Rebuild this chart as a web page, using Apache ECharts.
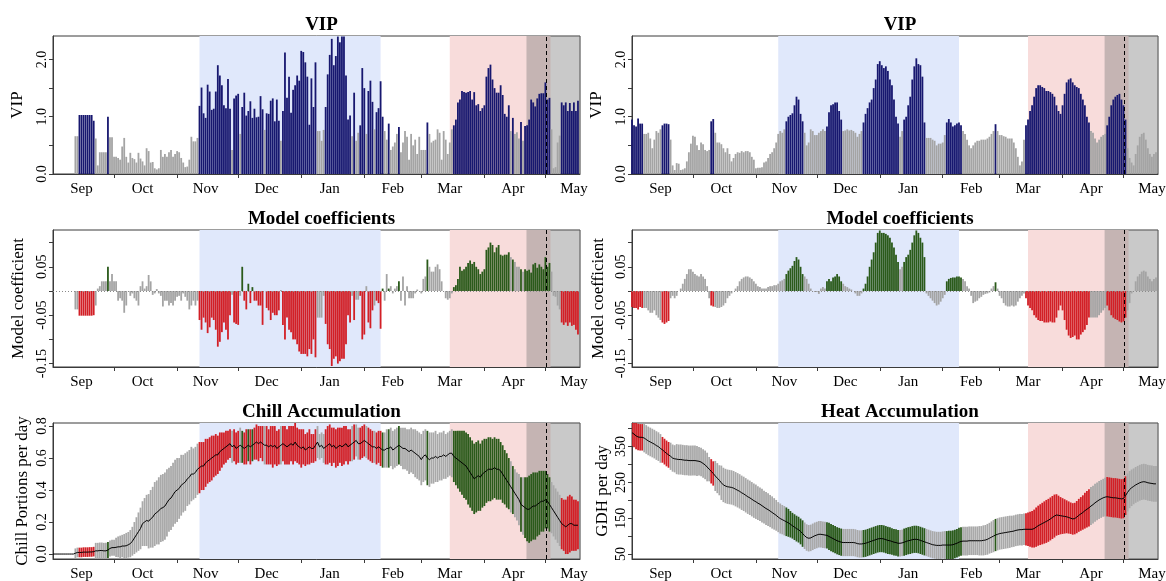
<!DOCTYPE html>
<html><head><meta charset="utf-8">
<script src="https://cdn.jsdelivr.net/npm/echarts@6/dist/echarts.min.js"></script>
<style>html,body{margin:0;padding:0;background:#fff}#c{width:1166px;height:581px}</style>
</head><body><div id="c"></div>
<script>
// ---- axis / period data (day 0 = Sep 1) ----
const monthNames = ['Sep','Oct','Nov','Dec','Jan','Feb','Mar','Apr','May'];
const monthLabelDays = [14,44,75,105,136,167,195,226,256];
const monthTickDays = [30,61,91,122,153,181,212,242];
const chillPeriod = [72, 161];
const heatPeriod = [195, 244.5];
const bloomRange = [232.7, 259];
const bloomMean = 242.5;
const vipThreshold = 0.8;

// ---- left column: chill model ----
const vipA = [
0,0,0,0,0,0,0,0,0,0,
0,0.66,0.66,1.03,1.03,1.03,1.03,1.03,1.03,1.03,
0.93,0.62,0.15,0.38,0.38,0.38,0.38,1.0,0.64,0.64,
0.3,0.3,0.28,0.25,0.48,0.63,0.3,0.2,0.37,0.28,
0.26,0.2,0.37,0.27,0.22,0.15,0.45,0.4,0.2,0.21,
0.1,0.08,0.1,0.42,0.3,0.35,0.3,0.38,0.42,0.3,
0.35,0.4,0.38,0.28,0.2,0.12,0.13,0.25,0.65,0.57,
0.57,0.63,1.19,1.51,1.06,0.98,1.56,1.44,1.12,1.14,
1.44,1.9,1.72,1.55,1.2,1.15,1.66,1.14,0.42,1.32,
1.37,1.4,0.7,1.17,1.42,1.02,1.1,1.27,0.98,1.14,
0.99,1.0,1.36,1.13,0.77,1.06,1.05,1.28,1.32,0.92,
1.3,0.93,0.58,1.1,2.12,1.33,1.7,1.07,1.47,1.55,
1.72,1.63,2.15,2.13,1.95,1.7,0.86,1.67,1.17,1.95,
0.75,0.75,0.58,0.77,1.17,1.74,2.08,2.36,1.9,2.06,
2.4,2.3,2.4,2.4,1.72,0.95,1.02,0.66,1.42,0.58,
0.72,0.85,1.85,1.5,0.7,1.45,1.63,1.26,0.78,1.08,
1.15,1.62,1.0,0.75,0.6,0.88,0.42,0.48,0.55,0.7,
0.82,0.38,0.55,0.75,0.65,0.25,0.7,0.5,0.6,0.35,
0.65,0.42,0.42,0.42,0.9,0.7,0.55,0.58,0.6,0.78,
0.72,0.25,0.75,0.6,0.35,0.55,0.78,0.85,0.95,1.25,
1.3,1.45,1.43,1.42,1.43,1.45,1.3,1.43,1.2,1.22,
1.1,1.15,1.2,1.7,1.85,1.91,1.65,1.5,1.42,1.42,
1.55,1.38,1.05,1.0,1.2,0.75,0.98,0.7,0.73,0.62,
0.91,0.58,0.84,0.85,0.95,1.3,1.25,1.18,1.32,1.4,
1.41,1.41,1.6,1.3,1.33,0.78,0.1,0.12,0.55,0.67,
1.25,1.2,1.25,1.1,1.24,1.1,1.25,1.1,1.28];
const coefA = [
0,0,0,0,0,0,0,0,0,0,
0,-0.038,-0.038,-0.051,-0.051,-0.051,-0.051,-0.051,-0.051,-0.051,
-0.05,-0.03,0.005,0.01,0.02,0.02,0.02,0.05,0.02,0.035,
0.02,0.02,-0.02,-0.015,-0.02,-0.045,-0.03,0.0,-0.01,-0.005,
-0.015,-0.02,-0.03,0.01,0.02,0.005,0.01,0.033,0.02,-0.008,
-0.005,0.004,-0.005,-0.01,-0.032,-0.02,-0.02,-0.03,-0.025,-0.03,
-0.02,-0.012,-0.01,-0.02,-0.005,-0.012,-0.02,-0.038,-0.03,-0.02,
-0.03,-0.02,-0.06,-0.08,-0.055,-0.065,-0.087,-0.075,-0.055,-0.06,
-0.08,-0.115,-0.105,-0.085,-0.065,-0.08,-0.1,-0.05,-0.008,-0.065,
-0.068,-0.07,-0.01,0.05,-0.02,-0.038,0.015,-0.025,0.008,-0.02,
-0.02,-0.03,-0.03,-0.07,0.0,-0.035,-0.04,-0.06,-0.045,-0.05,
-0.05,-0.04,0.002,-0.07,-0.1,-0.055,-0.08,-0.085,-0.1,-0.1,
-0.11,-0.125,-0.13,-0.13,-0.13,-0.135,-0.12,-0.13,-0.1,-0.137,
-0.055,-0.055,-0.055,-0.01,-0.068,-0.11,-0.12,-0.155,-0.14,-0.135,
-0.15,-0.145,-0.14,-0.14,-0.11,-0.05,-0.065,-0.01,-0.06,-0.018,
-0.018,-0.01,-0.1,-0.09,0.01,-0.065,-0.077,-0.04,-0.03,-0.02,
-0.025,-0.078,0.005,-0.02,0.035,0.005,0.01,-0.005,0.005,0.01,
0.02,-0.02,0.03,-0.03,0.01,-0.015,-0.015,-0.015,-0.005,0.003,
0.0,-0.005,0.025,0.03,0.065,0.05,0.04,0.04,0.05,0.055,
0.045,0.02,0.0,-0.015,-0.018,-0.015,-0.005,0.008,0.012,0.025,
0.05,0.042,0.045,0.05,0.058,0.063,0.056,0.06,0.05,0.045,
0.035,0.04,0.045,0.085,0.09,0.1,0.095,0.08,0.09,0.095,
0.075,0.073,0.075,0.075,0.08,0.07,0.065,0.06,0.05,0.05,
0.045,0.04,0.045,0.042,0.044,0.038,0.055,0.058,0.048,0.055,
0.05,0.045,0.07,0.05,0.058,0.04,-0.01,-0.012,-0.03,-0.038,
-0.065,-0.07,-0.065,-0.072,-0.065,-0.072,-0.07,-0.08,-0.09];
const chillMean = [
0,0,0,0,0,0,0,0,0,0,
0,0.005,0.01,0.01,0.01,0.012,0.012,0.012,0.013,0.013,
0.015,0.02,0.02,0.022,0.022,0.02,0.02,0.025,0.035,0.04,
0.04,0.042,0.045,0.045,0.05,0.05,0.052,0.058,0.065,0.08,
0.1,0.12,0.14,0.16,0.19,0.2,0.21,0.205,0.22,0.23,
0.25,0.26,0.27,0.285,0.29,0.3,0.32,0.34,0.35,0.37,
0.39,0.4,0.41,0.43,0.44,0.45,0.47,0.48,0.5,0.5,
0.51,0.53,0.54,0.55,0.55,0.57,0.58,0.59,0.6,0.61,
0.62,0.62,0.64,0.65,0.66,0.67,0.68,0.69,0.67,0.68,
0.66,0.67,0.68,0.67,0.66,0.67,0.68,0.67,0.68,0.69,
0.7,0.69,0.7,0.69,0.68,0.68,0.67,0.68,0.67,0.68,
0.66,0.67,0.68,0.69,0.68,0.67,0.68,0.69,0.68,0.7,
0.68,0.67,0.66,0.67,0.65,0.66,0.67,0.66,0.66,0.68,
0.7,0.67,0.68,0.66,0.67,0.68,0.69,0.67,0.68,0.66,
0.67,0.68,0.67,0.68,0.69,0.67,0.68,0.69,0.7,0.71,
0.69,0.69,0.7,0.71,0.7,0.69,0.68,0.67,0.67,0.66,
0.67,0.66,0.65,0.65,0.66,0.66,0.67,0.65,0.66,0.67,
0.68,0.67,0.66,0.66,0.65,0.64,0.65,0.64,0.63,0.62,
0.61,0.59,0.61,0.62,0.6,0.59,0.6,0.6,0.61,0.6,
0.61,0.61,0.62,0.61,0.62,0.63,0.63,0.61,0.6,0.59,
0.58,0.57,0.56,0.55,0.53,0.51,0.49,0.47,0.48,0.49,
0.48,0.5,0.51,0.52,0.53,0.53,0.53,0.54,0.53,0.53,
0.52,0.5,0.48,0.46,0.44,0.42,0.4,0.38,0.36,0.34,
0.31,0.3,0.29,0.28,0.28,0.29,0.3,0.3,0.31,0.32,
0.33,0.33,0.34,0.33,0.31,0.29,0.27,0.25,0.23,0.21,
0.19,0.18,0.17,0.18,0.19,0.19,0.18,0.18,0.18];
const chillSd = [
0,0,0,0,0,0,0,0,0,0,
0,0.03,0.03,0.03,0.03,0.03,0.03,0.03,0.03,0.03,
0.03,0.05,0.05,0.05,0.05,0.05,0.05,0.05,0.05,0.05,
0.05,0.06,0.065,0.07,0.07,0.075,0.08,0.08,0.085,0.09,
0.1,0.11,0.12,0.13,0.14,0.15,0.16,0.17,0.18,0.19,
0.2,0.2,0.21,0.21,0.21,0.21,0.21,0.2,0.2,0.2,
0.2,0.2,0.19,0.19,0.18,0.18,0.17,0.17,0.17,0.16,
0.16,0.16,0.16,0.15,0.15,0.15,0.14,0.14,0.14,0.13,
0.13,0.12,0.12,0.11,0.1,0.1,0.09,0.09,0.1,0.1,
0.1,0.1,0.11,0.1,0.1,0.11,0.1,0.11,0.1,0.1,
0.11,0.11,0.1,0.11,0.12,0.12,0.11,0.12,0.13,0.12,
0.11,0.11,0.12,0.11,0.12,0.11,0.12,0.11,0.12,0.12,
0.11,0.11,0.12,0.11,0.1,0.1,0.11,0.09,0.09,0.1,
0.1,0.08,0.08,0.09,0.11,0.12,0.12,0.12,0.11,0.12,
0.12,0.11,0.12,0.12,0.11,0.11,0.1,0.11,0.11,0.1,
0.1,0.1,0.1,0.1,0.1,0.1,0.1,0.1,0.1,0.1,
0.1,0.11,0.11,0.11,0.12,0.12,0.12,0.12,0.12,0.12,
0.12,0.12,0.13,0.13,0.13,0.14,0.14,0.14,0.15,0.15,
0.15,0.16,0.16,0.16,0.17,0.17,0.16,0.16,0.16,0.15,
0.15,0.15,0.15,0.14,0.14,0.14,0.15,0.16,0.17,0.18,
0.19,0.2,0.21,0.21,0.22,0.22,0.22,0.22,0.22,0.22,
0.21,0.21,0.21,0.2,0.2,0.2,0.19,0.19,0.19,0.19,
0.18,0.18,0.17,0.17,0.16,0.16,0.15,0.15,0.15,0.16,
0.17,0.18,0.19,0.2,0.21,0.21,0.21,0.21,0.2,0.2,
0.19,0.19,0.18,0.17,0.17,0.16,0.16,0.16,0.16,0.16,
0.16,0.16,0.17,0.18,0.18,0.17,0.16,0.16,0.15];

// ---- right column: heat model ----
const vipB = [
0.95,0.85,0.83,0.97,0.88,0.88,0.7,0.7,0.72,0.62,
0.45,0.6,0.75,0.72,0.78,0.85,0.88,0.88,0.87,0.6,
0.15,0.07,0.19,0.18,0.07,0.08,0.1,0.22,0.38,0.53,
0.67,0.65,0.5,0.42,0.55,0.52,0.42,0.4,0.42,0.92,
0.96,0.72,0.55,0.55,0.52,0.45,0.38,0.45,0.35,0.22,
0.28,0.35,0.38,0.37,0.4,0.38,0.4,0.4,0.38,0.3,
0.25,0.1,0.11,0.11,0.12,0.2,0.22,0.28,0.35,0.38,
0.45,0.55,0.7,0.75,0.72,0.78,0.92,1.0,1.03,1.06,
1.2,1.35,1.3,1.05,0.92,0.72,0.5,0.55,0.78,0.75,
0.68,0.68,0.72,0.75,0.78,0.75,0.83,1.08,1.2,1.22,
1.25,1.25,1.1,0.95,0.75,0.76,0.78,0.76,0.77,0.75,
0.72,0.65,0.7,0.75,0.9,1.05,1.15,1.25,1.3,1.5,
1.65,1.92,1.97,1.9,1.85,1.88,1.8,1.65,1.55,1.3,
1.0,0.88,0.65,0.75,0.95,1.0,1.2,1.35,1.65,1.88,
2.02,1.92,1.9,1.7,0.9,0.63,0.63,0.63,0.6,0.58,
0.5,0.53,0.53,0.55,0.68,0.9,0.96,0.9,0.83,0.85,
0.88,0.9,0.85,0.75,0.7,0.6,0.5,0.45,0.5,0.55,
0.58,0.58,0.6,0.6,0.6,0.62,0.65,0.7,0.75,0.87,
0.75,0.68,0.68,0.66,0.65,0.62,0.62,0.62,0.55,0.45,
0.3,0.15,0.22,0.6,0.85,0.95,1.1,1.2,1.35,1.5,
1.55,1.55,1.52,1.5,1.45,1.45,1.43,1.4,1.35,1.2,
1.1,1.05,1.2,1.4,1.6,1.65,1.67,1.6,1.55,1.52,
1.5,1.4,1.3,1.2,1.0,0.9,0.75,0.72,0.62,0.55,
0.6,0.65,0.68,0.7,0.85,1.0,1.2,1.3,1.35,1.38,
1.4,1.3,1.2,0.95,0.45,0.28,0.2,0.15,0.35,0.5,
0.65,0.7,0.72,0.6,0.45,0.35,0.3,0.35,0.38];
const coefB = [
-0.033,-0.035,-0.035,-0.038,-0.033,-0.035,-0.035,-0.035,-0.04,-0.045,
-0.045,-0.04,-0.05,-0.055,-0.06,-0.065,-0.068,-0.065,-0.062,-0.015,
-0.01,-0.015,-0.01,0.0,0.005,0.015,0.025,0.035,0.045,0.045,
0.04,0.035,0.032,0.03,0.035,0.03,0.025,0.01,-0.015,-0.03,
-0.032,-0.033,-0.035,-0.035,-0.033,-0.03,-0.025,-0.015,-0.01,-0.005,
0.0,0.005,0.01,0.02,0.025,0.028,0.03,0.03,0.028,0.025,
0.02,0.015,0.01,0.008,0.005,0.005,0.005,0.008,0.01,0.01,
0.012,0.012,0.015,0.02,0.022,0.025,0.035,0.042,0.047,0.052,
0.062,0.07,0.065,0.05,0.035,0.03,0.025,0.015,0.005,0.0,
-0.002,-0.002,-0.006,0.005,0.008,0.005,0.02,0.025,0.02,0.028,
0.03,0.035,0.03,0.02,0.015,0.01,0.008,0.005,0.003,0.0,
-0.005,-0.01,-0.01,-0.005,0.005,0.015,0.03,0.05,0.065,0.08,
0.1,0.12,0.125,0.12,0.12,0.118,0.115,0.11,0.1,0.09,
0.075,0.06,0.045,0.05,0.06,0.07,0.075,0.085,0.1,0.115,
0.125,0.12,0.11,0.1,0.07,-0.005,-0.01,-0.015,-0.02,-0.025,
-0.03,-0.028,-0.022,-0.015,-0.008,0.02,0.025,0.027,0.028,0.028,
0.03,0.03,0.028,0.025,0.02,0.01,0.005,-0.01,-0.025,-0.022,
-0.02,-0.015,-0.012,-0.008,-0.006,-0.005,-0.003,0.005,0.01,0.018,
0.005,-0.01,-0.015,-0.025,-0.03,-0.032,-0.032,-0.03,-0.032,-0.03,
-0.022,-0.015,-0.01,-0.005,-0.015,-0.03,-0.035,-0.04,-0.05,-0.055,
-0.06,-0.062,-0.062,-0.065,-0.065,-0.065,-0.063,-0.065,-0.065,-0.055,
-0.04,-0.03,-0.04,-0.06,-0.08,-0.092,-0.097,-0.095,-0.092,-0.1,
-0.1,-0.09,-0.085,-0.08,-0.07,-0.055,-0.055,-0.055,-0.055,-0.055,
-0.05,-0.045,-0.04,-0.035,-0.03,-0.04,-0.05,-0.055,-0.058,-0.06,
-0.063,-0.065,-0.063,-0.055,-0.04,-0.025,-0.005,0.0,0.02,0.03,
0.035,0.04,0.042,0.04,0.03,0.025,0.02,0.025,0.028];
const heatMean = [
389,385,380,377,376,376,374,370,366,363,
360,357,353,350,345,341,336,331,327,323,
318,316,315,314,314,313,312,312,311,311,
311,311,310,309,307,303,299,293,287,281,
275,268,262,256,249,243,240,238,237,236,
234,231,228,225,221,218,214,210,207,203,
199,196,192,189,185,181,177,174,170,166,
162,158,153,149,146,143,140,137,133,129,
125,121,118,113,107,101,96,94,95,98,
101,103,105,105,104,103,102,99,96,93,
90,87,85,83,82,82,82,82,82,82,
81,79,78,78,79,80,82,84,86,88,
90,92,93,93,92,90,88,87,85,83,
82,80,80,81,83,85,87,88,90,91,
91,90,88,86,84,82,80,78,76,75,
74,74,74,75,75,75,75,75,76,78,
80,83,85,86,86,86,87,87,87,87,
87,87,87,88,89,91,94,97,100,103,
105,107,108,109,110,111,112,113,114,116,
117,118,118,119,119,119,119,119,121,125,
129,132,135,138,141,144,148,152,156,159,
158,157,156,155,154,152,150,148,149,153,
158,162,166,171,175,179,184,188,193,197,
201,204,207,209,210,209,208,207,207,206,
205,204,205,213,222,230,235,239,243,246,
249,251,252,251,249,248,247,246,246];
const heatSd = [
37,37,37,37,37,37,40,40,40,40,
40,40,40,40,40,36,36,36,36,38,
38,38,42,42,42,42,42,42,42,42,
42,42,42,40,40,40,40,40,34,34,
34,42,42,42,48,48,48,48,48,48,
48,48,48,48,48,48,48,48,48,48,
48,48,47,47,47,46,46,46,45,45,
44,43,42,42,41,41,40,39,37,36,
36,36,36,36,37,37,37,37,37,37,
37,37,37,37,37,37,37,38,38,38,
38,38,38,38,38,38,38,38,38,38,
38,38,38,38,38,38,38,38,38,38,
38,38,38,38,38,38,38,38,37,37,
37,37,37,37,38,38,38,38,38,38,
38,38,38,38,38,38,38,38,38,38,
38,38,38,38,39,39,40,40,40,40,
40,40,40,40,40,40,40,40,40,40,
40,41,41,42,42,43,43,44,45,45,
45,45,45,45,45,45,45,44,44,44,
44,44,44,44,45,47,49,51,53,55,
56,57,58,59,60,60,60,60,60,58,
55,52,50,48,46,45,44,44,44,45,
46,47,48,50,51,52,53,53,53,53,
53,53,53,54,55,55,55,55,55,55,
55,55,55,54,53,52,51,50,50,50,
50,50,50,50,50,50,50,50,50];

// ---- styles ----
const SERIF = '"Liberation Serif","DejaVu Serif",serif';
const AX = '#3a3a3a';
const C = {blue:'#17176f', grey:'#a4a4a4', red:'#d21f26', green:'#2a5a1a', band:'#a9a9a9',
  chillShade:'#e0e8fb', heatShade:'#f8dcdb', bloomShade:'rgba(120,120,120,0.4)'};
const colLeft = [53, 632], colWidth = [527, 526];
const rowTop = [36, 230, 423], rowH = [138, 137, 136];
const BAR_W = 1.8;

function sigColor(vip, coef) {
  if (vip < vipThreshold) return 'grey';
  return coef < 0 ? 'red' : 'green';
}
const classA = vipA.map((v,i)=>sigColor(v, coefA[i]));
const classB = vipB.map((v,i)=>sigColor(v, coefB[i]));

const grids = [], xAxes = [], yAxes = [], series = [], titles = [];
const rowTitles = [['VIP','VIP'],['Model coefficients','Model coefficients'],['Chill Accumulation','Heat Accumulation']];
const titleY = [20, 214, 407];
const yCfg = [
 [{min:0,max:2.41,ticks:[0,0.5,1,1.5,2],labels:[0,1,2],fmt:v=>v.toFixed(1),name:'VIP',gap:27},
  {min:0,max:2.41,ticks:[0,0.5,1,1.5,2],labels:[0,1,2],fmt:v=>v.toFixed(1),name:'VIP',gap:27}],
 [{min:-0.157,max:0.126,ticks:[-0.15,-0.1,-0.05,0,0.05,0.1],labels:[-0.15,-0.05,0.05],fmt:v=>v.toFixed(2),name:'Model coefficient',gap:26},
  {min:-0.157,max:0.126,ticks:[-0.15,-0.1,-0.05,0,0.05,0.1],labels:[-0.15,-0.05,0.05],fmt:v=>v.toFixed(2),name:'Model coefficient',gap:25}],
 [{min:-0.031,max:0.819,ticks:[0,0.2,0.4,0.6,0.8],labels:[0,0.2,0.4,0.6,0.8],fmt:v=>v.toFixed(1),name:'Chill Portions per day',gap:22},
  {min:36,max:416,ticks:[50,100,150,200,250,300,350,400],labels:[50,150,250,350],fmt:v=>String(v),name:'GDH per day',gap:21}]
];

let gi = 0;
for (let r = 0; r < 3; r++) {
  for (let c = 0; c < 2; c++) {
    grids.push({left: colLeft[c], top: rowTop[r], width: colWidth[c], height: rowH[r],
      show: true, borderColor: AX, borderWidth: 1, backgroundColor: 'transparent', containLabel:false, outerBoundsMode:'none'});
    xAxes.push({type:'value', gridIndex: gi, min:0, max:259,
      axisLine:{show:true, onZero:false, lineStyle:{color:AX, width:1}},
      axisTick:{show:true, customValues: monthTickDays, length:4, lineStyle:{color:AX}},
      axisLabel:{customValues: monthLabelDays, formatter: v => monthNames[monthLabelDays.indexOf(v)],
        fontFamily: SERIF, fontSize: 15, color:'#000', margin: 8},
      splitLine:{show:false}});
    const y = yCfg[r][c];
    yAxes.push({type:'value', gridIndex: gi, min:y.min, max:y.max,
      axisLine:{show:true, onZero:false, lineStyle:{color:AX, width:1}},
      axisTick:{show:true, customValues:y.ticks, length:4, lineStyle:{color:AX}},
      axisLabel:{customValues:y.labels, formatter:y.fmt, rotate:90, fontFamily:SERIF, fontSize:14, color:'#000', margin:4},
      splitLine:{show:false},
      name:y.name, nameLocation:'middle', nameGap:y.gap, nameTextStyle:{fontFamily:SERIF, fontSize:17, color:'#000'}});
    titles.push({text: rowTitles[r][c], left: colLeft[c] + colWidth[c]/2, top: titleY[r], textAlign:'center', textVerticalAlign:'middle',
      textStyle:{fontFamily:SERIF, fontWeight:'bold', fontSize:19, color:'#000'}});
    // background periods
    series.push({type:'line', xAxisIndex:gi, yAxisIndex:gi, data:[], z:1, silent:true,
      markArea:{silent:true, data:[
        [{xAxis:chillPeriod[0], itemStyle:{color:C.chillShade}}, {xAxis:chillPeriod[1]}],
        [{xAxis:heatPeriod[0], itemStyle:{color:C.heatShade}}, {xAxis:heatPeriod[1]}],
        [{xAxis:bloomRange[0], itemStyle:{color:C.bloomShade}}, {xAxis:bloomRange[1]}]
      ]}});
    const vip = c === 0 ? vipA : vipB;
    const coef = c === 0 ? coefA : coefB;
    const cls = c === 0 ? classA : classB;
    if (r === 0) {
      series.push({type:'bar', xAxisIndex:gi, yAxisIndex:gi, barWidth:BAR_W, z:2, silent:true,
        data: vip.map((v,i)=>[i,v]),
        itemStyle:{color: p => vip[p.dataIndex] >= vipThreshold ? C.blue : C.grey}});
    } else if (r === 1) {
      series.push({type:'bar', xAxisIndex:gi, yAxisIndex:gi, barWidth:BAR_W, z:2, silent:true,
        data: coef.map((v,i)=>[i,v]),
        itemStyle:{color: p => ({grey:C.grey, red:C.red, green:C.green})[cls[p.dataIndex]]},
        markLine:{silent:true, symbol:'none', label:{show:false},
          lineStyle:{type:[1,2], color:'#8a8a8a', width:1}, data:[{yAxis:0}]}});
    } else {
      const mean = c === 0 ? chillMean : heatMean;
      const sd = c === 0 ? chillSd : heatSd;
      series.push({type:'custom', xAxisIndex:gi, yAxisIndex:gi, z:2, silent:true, clip:true,
        data: mean.map((m,i)=>[i, m - sd[i], m + sd[i]]),
        encode:{x:0, y:[1,2]},
        renderItem: (params, api) => {
          const x = api.value(0), lo = api.value(1), hi = api.value(2);
          if (hi - lo <= 0) return null;
          const a = api.coord([x, hi]), b = api.coord([x, lo]);
          const cs = params.coordSys;
          const rect = echarts.graphic.clipRectByRect(
            {x: a[0]-BAR_W/2, y: a[1], width: BAR_W, height: b[1]-a[1]},
            {x: cs.x, y: cs.y, width: cs.width, height: cs.height});
          if (!rect) return null;
          const k = cls[params.dataIndex];
          return {type:'rect', shape: rect, style:{fill: k === 'grey' ? C.band : (k === 'red' ? C.red : C.green)}};
        }});
      series.push({type:'line', xAxisIndex:gi, yAxisIndex:gi, z:3, silent:true, showSymbol:false, symbol:'none',
        data: mean.map((m,i)=>[i,m]), lineStyle:{color:'#000', width:1}});
    }
    // mean bloom date
    series.push({type:'line', xAxisIndex:gi, yAxisIndex:gi, data:[], z:4, silent:true,
      markLine:{silent:true, symbol:'none', label:{show:false},
        lineStyle:{type:[4,3], color:'#000', width:1}, data:[{xAxis:bloomMean}]}});
    gi++;
  }
}

const chart = echarts.init(document.getElementById('c'), null, {renderer:'canvas'});
chart.setOption({animation:false, backgroundColor:'#fff', title: titles, grid: grids, xAxis: xAxes, yAxis: yAxes, series: series});
</script>
</body></html>
